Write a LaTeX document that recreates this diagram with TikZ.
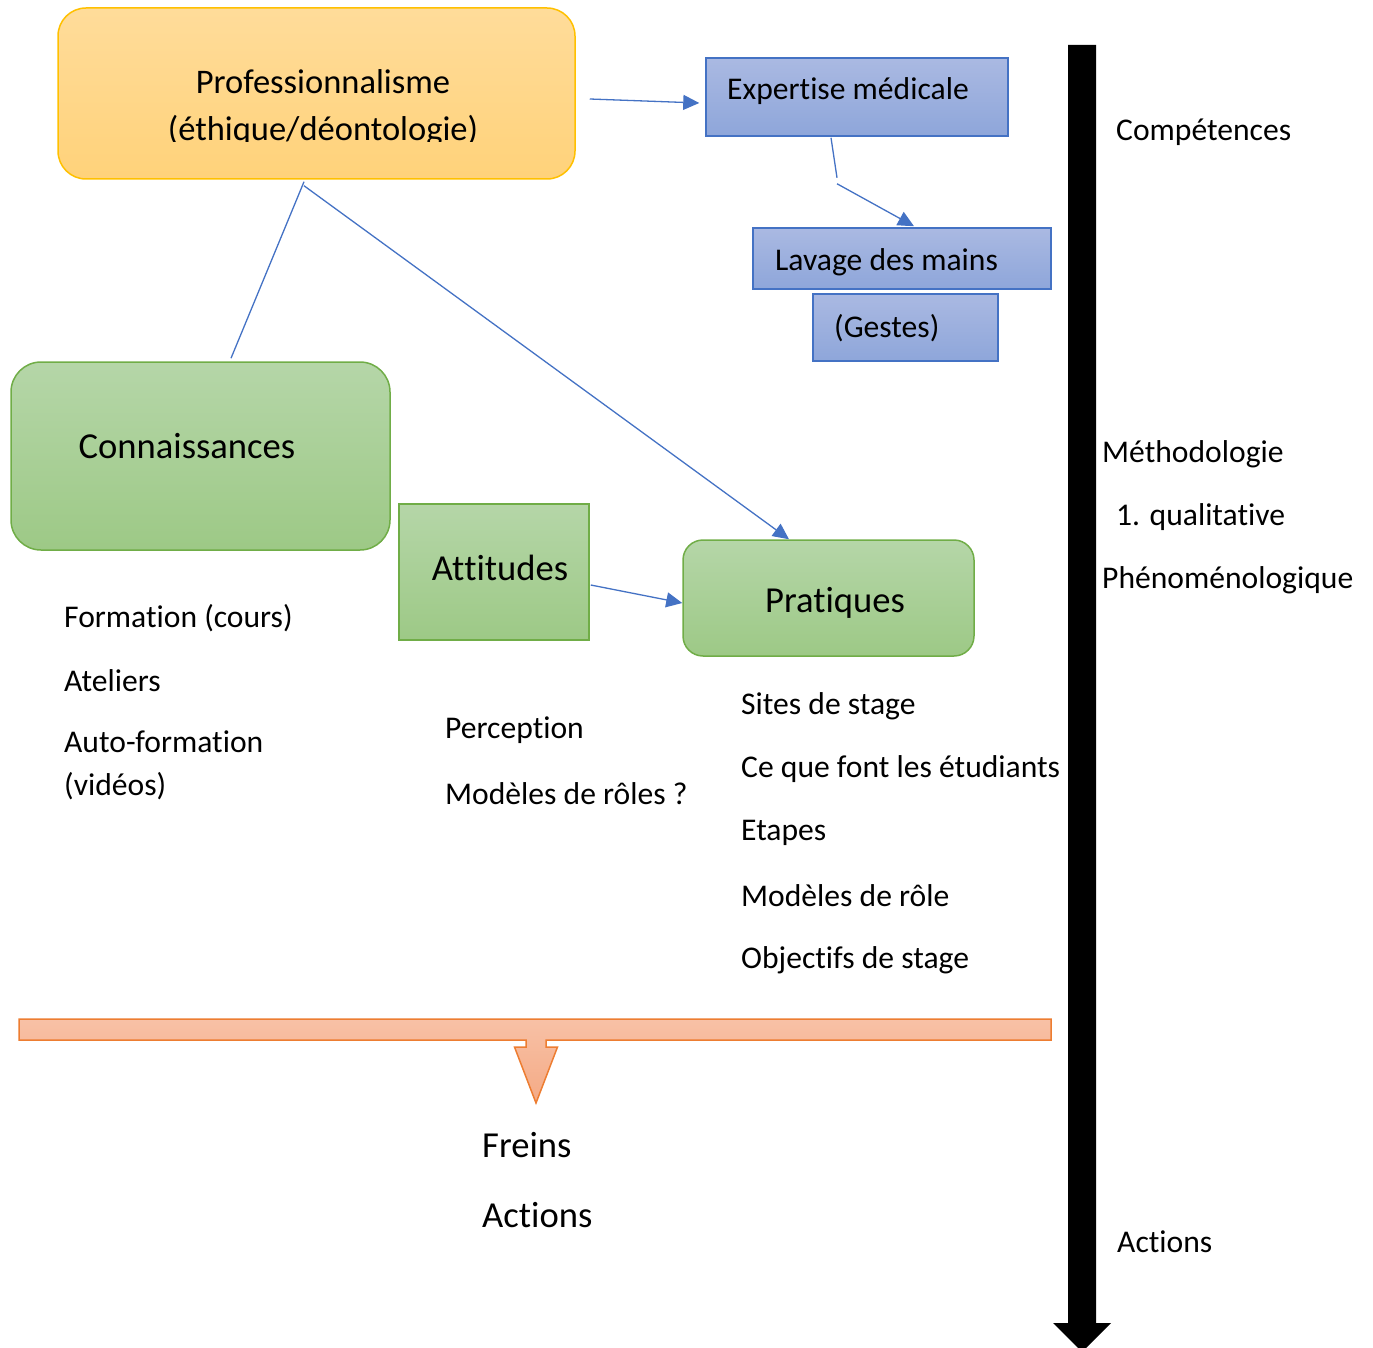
\documentclass[tikz,border=0pt]{standalone}
\usepackage{fontspec}
\setmainfont{Carlito}[Ligatures={NoCommon,NoContextual},Contextuals=NoAlternate,RawFeature={-liga;-clig;-calt;-dlig}]
\usetikzlibrary{arrows.meta,calc}
\newcommand\nolig{\kern0pt{}}
\definecolor{goldline}{HTML}{FFC000}
\definecolor{goldtop}{HTML}{FFDC9A}
\definecolor{goldbot}{HTML}{FFD27A}
\definecolor{grnline}{HTML}{70AD47}
\definecolor{grntop}{HTML}{B5D6A8}
\definecolor{grnbot}{HTML}{9DC986}
\definecolor{bluline}{HTML}{4472C4}
\definecolor{blutop}{HTML}{AAB9E2}
\definecolor{blubot}{HTML}{8EA6DA}
\definecolor{orgline}{HTML}{ED7D31}
\definecolor{orgtop}{HTML}{F8C1A6}
\definecolor{orgbot}{HTML}{F4AA85}
\tikzset{
  smalltxt/.style={anchor=west, inner sep=0pt, align=left, yshift=-2pt, font=\fontsize{31.6}{43}\selectfont},
  bigtxt/.style={inner sep=0pt, yshift=-1pt, font=\fontsize{36.6}{44}\selectfont},
  goldbox/.style={draw=goldline, line width=1.5pt, top color=goldtop, bottom color=goldbot, rounded corners=28pt, inner sep=0pt},
  grnbox/.style={draw=grnline, line width=1.5pt, top color=grntop, bottom color=grnbot, inner sep=0pt},
  blubox/.style={draw=bluline, line width=1.5pt, top color=blutop, bottom color=blubot, inner sep=0pt},
  conn/.style={draw=bluline, line width=1.3pt},
  arr/.style={conn, -{Triangle[length=16pt,width=15pt]}},
}
\begin{document}
\begin{tikzpicture}[x=1pt,y=-1pt]
\useasboundingbox (0,0) rectangle (1373,1348);

% boxes
\node[goldbox, minimum width=517pt, minimum height=171pt] (prof) at (316.5,93.5) {};
\begin{scope}
  \clip (58,8) rectangle (575,142);
  \node[inner sep=0pt, align=center, font=\fontsize{34.5}{47}\selectfont] (proftxt) at (323,108) {Professionnalisme\\(éthique/déontologie)};
\end{scope}

\node[blubox, minimum width=302pt, minimum height=78pt] (exp) at (857,97) {};
\node[smalltxt] (exptxt) at (727,89) {Expert\nolig ise médicale};
\node[blubox, minimum width=298pt, minimum height=61pt] (lav) at (902,258.5) {};
\node[smalltxt] (lavtxt) at (775,260) {Lavage des mains};
\node[blubox, minimum width=185pt, minimum height=67pt] (gest) at (905.5,327.5) {};
\node[smalltxt] (gesttxt) at (834,326) {(Gestes)};

\node[grnbox, rounded corners=30pt, minimum width=379pt, minimum height=188pt] (conn) at (200.5,456) {};
\node[bigtxt] (conntxt) at (187,445) {Connaissances};
\node[grnbox, minimum width=190pt, minimum height=136pt] (att) at (494,572) {};
\node[bigtxt] (atttxt) at (500,567) {At\nolig t\nolig i\nolig t\nolig udes};
\node[grnbox, rounded corners=20pt, minimum width=291pt, minimum height=116pt] (prat) at (828.5,598) {};
\node[bigtxt] (pratxt) at (835,602) {Prat\nolig iques};

% connectors
\draw[arr] ($(prof.east)+(14,5.5)$) -- ($(exp.west)+(-6,6)$);
\coordinate (bend) at ($(exp.south)+(-20,41)$);
\draw[conn] ($(exp.south)+(-26,1)$) -- (bend);
\draw[arr] ($(bend)+(0,6)$) -- ($(lav.north)+(12,-1)$);
\draw[conn] ($(prof.south)+(-12.5,2)$) -- ($(conn.north)+(30.5,-3)$);
\draw[arr] ($(prof.south)+(-12.5,6)$) -- ($(prat.north)+(-39.5,0)$);
\draw[arr] ($(att.east)+(1,13)$) -- ($(prat.west)+(0,5)$);

% lists
\node[smalltxt] (l1) at (64,616) {Format\nolig ion (cours)};
\node[smalltxt] (l2) at (64,679) {Ateliers};
\node[smalltxt] (l3) at (64,763.5) {Auto-format\nolig ion\\(vidéos)};

\node[smalltxt] (m1) at (445,728) {Percept\nolig ion};
\node[smalltxt] (m2) at (445,792) {Modèles de rôles ?};

\node[smalltxt] (p1) at (741,704) {Sites de stage};
\node[smalltxt] (p2) at (741,767) {Ce que font les étudiants};
\node[smalltxt] (p3) at (741,831) {Etapes};
\node[smalltxt] (p4) at (741,894) {Modèles de rôle};
\node[smalltxt] (p5) at (741,958) {Object\nolig ifs de stage};

% orange bar with down arrow
\path[draw=orgline, line width=1.5pt, top color=orgtop, bottom color=orgbot, line join=miter]
  (19,1019) -- (1051,1019) -- (1051,1040) -- (546,1040) -- (546,1047) -- (557.5,1047)
  -- (536,1103) -- (514.5,1047) -- (526,1047) -- (526,1040) -- (19,1040) -- cycle;
\node[bigtxt, anchor=west] (freins) at (482,1144) {Freins};
\node[bigtxt, anchor=west] (actions) at (482,1214) {Act\nolig ions};

% black axis arrow
\fill[black] (1068,45) -- (1096,45) -- (1096,1323) -- (1111,1323) -- (1082,1352) -- (1053,1323) -- (1068,1323) -- cycle;

% right labels
\node[smalltxt] (r1) at (1116,130) {Compétences};
\node[smalltxt] (r2) at (1102,452) {Méthodologie};
\node[smalltxt] (r3) at (1116,515) {1. qualitat\nolig ive};
\node[smalltxt] (r4) at (1102,578) {Phénoménologique};
\node[smalltxt] (r5) at (1117,1240) {Act\nolig ions};
\end{tikzpicture}
\end{document}
